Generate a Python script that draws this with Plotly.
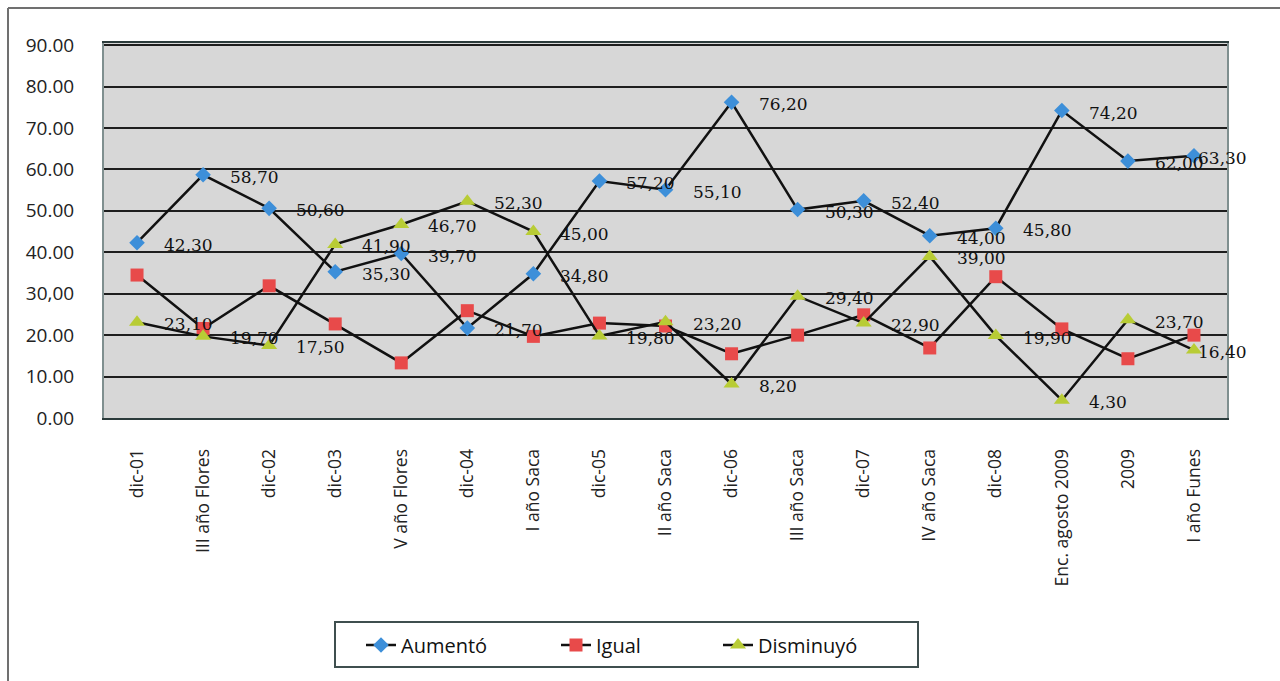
import plotly.graph_objects as go

categories = ["dic-01", "III año Flores", "dic-02", "dic-03", "V año Flores", "dic-04",
              "I año Saca", "dic-05", "II año Saca", "dic-06", "III año Saca", "dic-07",
              "IV año Saca", "dic-08", "Enc. agosto 2009", "2009", "I año Funes"]

aumento = [42.3, 58.7, 50.6, 35.3, 39.7, 21.7, 34.8, 57.2, 55.1, 76.2, 50.3, 52.4,
           44.0, 45.8, 74.2, 62.0, 63.3]
igual = [34.5, 21.6, 31.9, 22.7, 13.3, 25.9, 19.7, 22.9, 22.2, 15.5, 20.0, 24.9,
         16.9, 34.1, 21.5, 14.3, 20.0]
disminuyo = [23.1, 19.7, 17.5, 41.9, 46.7, 52.3, 45.0, 19.8, 23.2, 8.2, 29.4, 22.9,
             39.0, 19.9, 4.3, 23.7, 16.4]

y_tickvals = [0, 10, 20, 30, 40, 50, 60, 70, 80, 90]
y_ticktext = ["0.00", "10.00", "20.00", "30,00", "40.00", "50.00", "60.00", "70.00", "80.00", "90.00"]

series = [
    ("Aumentó", aumento, "diamond", "#3d8fd9", 12, True, 150),
    ("Igual", igual, "square", "#e84a4a", 13, False, 117),
    ("Disminuyó", disminuyo, "triangle-up", "#b8cc35", 14, True, 130),
]

fig = go.Figure()
annotations = []
n = len(categories)
for name, vals, sym, col, size, labelled, lw in series:
    fig.add_trace(go.Scatter(
        x=categories, y=vals, name=name, mode="lines+markers",
        line=dict(color="#111111", width=2.5),
        marker=dict(symbol=sym, color=col, size=size, line=dict(width=0)),
        legendwidth=lw,
    ))
    if labelled:
        for i, v in enumerate(vals):
            annotations.append(dict(
                x=i, y=v, xref="x", yref="y", text=f"{v:.2f}".replace(".", ","),
                showarrow=False, xanchor="left", yanchor="middle",
                xshift=(25 if i < n - 1 else 2), yshift=-2,
                font=dict(family="DejaVu Serif", size=17, color="#111111"),
            ))

L, R, T, B = 104, 1227, 43, 418
W, H = 1280, 681
pw, ph = R - L, B - T

def px(xp):
    return (xp - L) / pw

def py(yp):
    return (B - yp) / ph

shapes = [
    dict(type="line", xref="paper", yref="paper", x0=px(8), x1=px(1290), y0=py(8), y1=py(8),
         line=dict(color="#707070", width=2)),
    dict(type="line", xref="paper", yref="paper", x0=px(8), x1=px(8), y0=py(8), y1=py(700),
         line=dict(color="#707070", width=2)),
    dict(type="rect", xref="paper", yref="paper", x0=px(335), x1=px(918), y0=py(667), y1=py(622),
         line=dict(color="#3f4f4f", width=2), fillcolor="rgba(0,0,0,0)", layer="above"),
]

fig.update_layout(
    width=W, height=H,
    margin=dict(l=L, r=W - R, t=T, b=H - B, pad=0),
    paper_bgcolor="white",
    plot_bgcolor="#d7d7d7",
    font=dict(family="Open Sans", color="#222222"),
    showlegend=True,
    legend=dict(
        orientation="h", x=px(627), y=py(645), xanchor="center", yanchor="middle",
        borderwidth=0, bgcolor="rgba(0,0,0,0)",
        font=dict(family="Open Sans", size=20, color="#111111"),
        tracegroupgap=0,
    ),
    annotations=annotations,
    shapes=shapes,
)

fig.update_xaxes(
    type="category", categoryorder="array", categoryarray=categories,
    range=[-0.5, n - 0.5],
    tickangle=-90, tickfont=dict(family="Open Sans", size=17.5, color="#222222"),
    showgrid=False, zeroline=False,
    showline=True, linecolor="#2b3b3b", linewidth=2, mirror=True,
    ticks="", ticklabelstandoff=22,
)
fig.update_yaxes(
    range=[0, 90.5], tickvals=y_tickvals, ticktext=y_ticktext,
    tickfont=dict(family="Open Sans", size=19, color="#222222"),
    showgrid=True, gridcolor="#1e1e1e", gridwidth=2,
    zeroline=False,
    showline=True, linecolor="#7f8f8f", linewidth=2, mirror=True,
    ticks="", ticklabelstandoff=24,
)

fig.write_html("out.html")
